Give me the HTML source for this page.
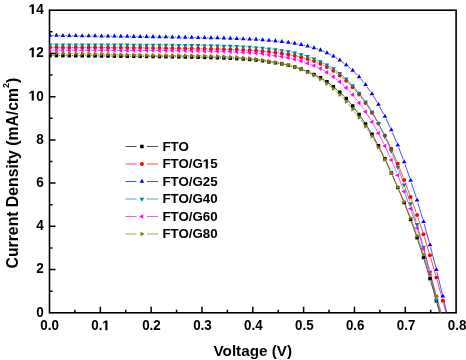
<!DOCTYPE html>
<html><head><meta charset="utf-8"><style>
html,body{margin:0;padding:0;background:#fff;}
svg{display:block;}
svg{will-change:transform;}
.h{fill-opacity:0;}
</style></head><body>
<svg width="466" height="360" viewBox="0 0 466 360">
<rect width="466" height="360" fill="#fff"/>
<defs><clipPath id="c"><rect x="49.5" y="10.2" width="406.6" height="302.6"/></clipPath></defs>
<rect x="49.5" y="10.2" width="406.60" height="302.60" fill="none" stroke="#000" stroke-width="1.6"/>
<g clip-path="url(#c)"><path d="M52.60,55.56L53.84,55.57M59.04,55.60L60.28,55.61M65.48,55.64L66.72,55.65M71.92,55.68L73.16,55.69M78.36,55.73L79.60,55.74M84.80,55.78L86.04,55.79M91.24,55.84L92.48,55.85M97.68,55.91L98.92,55.92M104.12,55.98L105.36,55.99M110.56,56.05L111.80,56.06M117.00,56.12L118.24,56.14M123.44,56.19L124.68,56.21M129.88,56.27L131.12,56.28M136.32,56.34L137.56,56.35M142.76,56.41L144.00,56.42M149.20,56.47L150.44,56.49M155.64,56.55L156.88,56.56M162.08,56.62L163.32,56.64M168.52,56.70L169.76,56.72M174.96,56.79L176.20,56.81M181.40,56.89L182.64,56.91M187.84,57.00L189.08,57.02M194.28,57.12L195.52,57.15M200.72,57.26L201.96,57.29M207.16,57.42L208.40,57.46M213.60,57.61L214.84,57.65M220.04,57.82L221.28,57.87M226.48,58.07L227.72,58.12M232.92,58.37L234.16,58.43M239.36,58.72L240.60,58.79M245.79,59.14L247.05,59.24M252.23,59.66L253.49,59.77M258.66,60.28L259.94,60.42M265.08,61.17L266.40,61.42M271.54,62.24L272.82,62.41M277.96,63.19L279.28,63.41M284.38,64.41L285.74,64.70M290.79,65.94L292.21,66.32M297.20,67.80L298.68,68.28M303.57,70.05L305.19,70.71M309.98,72.74L311.66,73.47M316.36,75.69L318.16,76.59M322.68,79.14L324.72,80.42M329.00,83.36L331.28,85.07M335.33,88.33L337.83,90.49M341.66,94.01L344.38,96.67M347.94,100.46L350.98,103.99M354.24,108.03L357.56,112.43M360.59,116.65L364.09,121.79M366.94,126.14L370.62,132.00M373.26,136.47L377.18,143.52M379.59,148.12L383.73,156.49M385.96,161.18L390.24,170.56M392.37,175.30L396.71,185.13M398.78,189.90L403.18,200.23M405.13,205.06L409.71,217.01M411.50,221.89L416.22,235.28M417.89,240.20L422.71,254.98M424.28,259.94L429.20,276.10M430.68,281.08L435.68,298.28M437.11,303.27L442.13,320.88" stroke="#000000" stroke-width="0.7" fill="none"/><path d="M52.60,47.30L53.84,47.31M59.04,47.35L60.28,47.36M65.48,47.39L66.72,47.40M71.92,47.44L73.16,47.44M78.36,47.48L79.60,47.48M84.80,47.52L86.04,47.52M91.24,47.55L92.48,47.56M97.68,47.58L98.92,47.59M104.12,47.62L105.36,47.62M110.56,47.65L111.80,47.66M117.00,47.68L118.24,47.69M123.44,47.72L124.68,47.73M129.88,47.76L131.12,47.77M136.32,47.81L137.56,47.82M142.76,47.87L144.00,47.88M149.20,47.93L150.44,47.94M155.64,48.00L156.88,48.01M162.08,48.08L163.32,48.09M168.52,48.16L169.76,48.18M174.96,48.26L176.20,48.28M181.40,48.36L182.64,48.38M187.84,48.47L189.08,48.49M194.28,48.59L195.52,48.61M200.72,48.72L201.96,48.74M207.16,48.85L208.40,48.88M213.60,49.01L214.84,49.04M220.04,49.18L221.28,49.21M226.48,49.37L227.72,49.41M232.92,49.59L234.16,49.63M239.36,49.84L240.60,49.90M245.80,50.14L247.04,50.21M252.24,50.50L253.48,50.58M258.67,50.93L259.93,51.02M265.11,51.47L266.37,51.59M271.54,52.13L272.82,52.27M277.98,52.90L279.26,53.08M284.41,53.84L285.71,54.05M290.83,54.97L292.17,55.23M297.25,56.31L298.63,56.62M303.67,57.89L305.09,58.27M310.08,59.75L311.56,60.22M316.44,62.02L318.08,62.72M322.80,64.90L324.60,65.82M329.15,68.34L331.13,69.52M335.48,72.36L337.68,73.92M341.79,77.09L344.25,79.16M348.09,82.67L350.83,85.37M354.39,89.16L357.41,92.59M360.70,96.62L363.98,100.92M366.99,105.16L370.57,110.56M373.32,114.96L377.12,121.38M379.68,125.90L383.64,133.18M386.01,137.81L390.19,146.49M392.35,151.21L396.73,161.32M398.72,166.12L403.24,177.49M405.12,182.34L409.72,194.59M411.52,199.47L416.20,212.50M417.90,217.42L422.70,231.86M424.28,236.81L429.20,252.79M430.68,257.77L435.68,275.01M437.09,280.01L442.15,298.33M443.51,303.35L448.61,322.34" stroke="#ff0000" stroke-width="0.7" fill="none"/><path d="M52.60,35.44L53.84,35.46M59.04,35.53L60.28,35.54M65.48,35.61L66.72,35.63M71.92,35.70L73.16,35.71M78.36,35.78L79.60,35.80M84.80,35.87L86.04,35.89M91.24,35.96L92.48,35.97M97.68,36.04L98.92,36.06M104.12,36.13L105.36,36.15M110.56,36.22L111.80,36.24M117.00,36.31L118.24,36.32M123.44,36.40L124.68,36.41M129.88,36.49L131.12,36.50M136.32,36.58L137.56,36.59M142.76,36.67L144.00,36.69M149.20,36.76L150.44,36.78M155.64,36.86L156.88,36.88M162.08,36.96L163.32,36.98M168.52,37.06L169.76,37.08M174.96,37.17L176.20,37.19M181.40,37.28L182.64,37.30M187.84,37.40L189.08,37.42M194.28,37.52L195.52,37.54M200.72,37.65L201.96,37.67M207.16,37.78L208.40,37.81M213.60,37.93L214.84,37.96M220.04,38.09L221.28,38.13M226.48,38.27L227.72,38.31M232.92,38.48L234.16,38.52M239.36,38.71L240.60,38.75M245.80,38.97L247.04,39.03M252.24,39.28L253.48,39.34M258.68,39.64L259.92,39.72M265.11,40.09L266.37,40.19M271.55,40.64L272.81,40.75M277.98,41.27L279.26,41.40M284.42,42.01L285.70,42.18M290.85,42.90L292.15,43.10M297.28,43.97L298.60,44.21M303.70,45.26L305.06,45.57M310.11,46.82L311.53,47.21M316.50,48.72L318.02,49.24M322.87,51.10L324.53,51.81M329.22,54.04L331.06,55.01M335.57,57.58L337.59,58.82M341.90,61.71L344.14,63.33M348.22,66.55L350.70,68.67M354.50,72.21L357.30,75.06M360.77,78.93L363.91,82.75M367.06,86.88L370.50,91.75M373.36,96.09L377.08,102.15M379.67,106.65L383.65,114.09M385.99,118.73L390.21,127.64M392.34,132.38L396.74,142.77M398.69,147.59L403.27,159.57M405.06,164.46L409.78,178.04M411.45,182.96L416.27,197.78M417.83,202.74L422.77,219.16M424.22,224.15L429.26,242.33M430.61,247.36L435.75,267.22M437.01,272.26L442.23,293.68M443.43,298.74L448.69,321.27" stroke="#0000ff" stroke-width="0.7" fill="none"/><path d="M52.60,44.82L53.84,44.82M59.04,44.82L60.28,44.83M65.48,44.83L66.72,44.83M71.92,44.84L73.16,44.84M78.36,44.85L79.60,44.85M84.80,44.86L86.04,44.86M91.24,44.87L92.48,44.87M97.68,44.88L98.92,44.88M104.12,44.90L105.36,44.90M110.56,44.91L111.80,44.91M117.00,44.93L118.24,44.93M123.44,44.95L124.68,44.95M129.88,44.97L131.12,44.97M136.32,44.99L137.56,44.99M142.76,45.01L144.00,45.02M149.20,45.04L150.44,45.05M155.64,45.08L156.88,45.08M162.08,45.11L163.32,45.12M168.52,45.16L169.76,45.17M174.96,45.21L176.20,45.22M181.40,45.27L182.64,45.28M187.84,45.34L189.08,45.35M194.28,45.42L195.52,45.44M200.72,45.51L201.96,45.53M207.16,45.63L208.40,45.65M213.60,45.75L214.84,45.78M220.04,45.91L221.28,45.94M226.48,46.09L227.72,46.13M232.92,46.31L234.16,46.36M239.36,46.58L240.60,46.64M245.80,46.90L247.04,46.97M252.23,47.29L253.49,47.38M258.67,47.76L259.93,47.86M265.11,48.35L266.37,48.49M271.54,49.08L272.82,49.23M277.97,49.92L279.27,50.11M284.40,50.93L285.72,51.17M290.82,52.15L292.18,52.44M297.24,53.60L298.64,53.95M303.65,55.31L305.11,55.73M310.05,57.33L311.59,57.88M316.42,59.78L318.10,60.51M322.79,62.73L324.61,63.66M329.15,66.18L331.13,67.35M335.47,70.21L337.69,71.82M341.76,75.05L344.28,77.23M348.05,80.80L350.87,83.69M354.35,87.54L357.45,91.22M360.68,95.29L364.00,99.75M366.97,104.02L370.59,109.65M373.27,114.11L377.17,121.08M379.58,125.69L383.74,134.15M385.93,138.87L390.27,148.70M392.28,153.50L396.80,164.79M398.65,169.65L403.31,182.39M405.04,187.29L409.80,201.23M411.41,206.17L416.31,221.96M417.79,226.95L422.81,244.67M424.16,249.69L429.32,270.08M430.56,275.13L435.80,297.40M436.98,302.46L442.26,325.33" stroke="#008080" stroke-width="0.7" fill="none"/><path d="M52.60,50.25L53.84,50.25M59.04,50.24L60.28,50.24M65.48,50.24L66.72,50.24M71.92,50.24L73.16,50.24M78.36,50.25L79.60,50.25M84.80,50.26L86.04,50.26M91.24,50.27L92.48,50.27M97.68,50.29L98.92,50.30M104.12,50.32L105.36,50.32M110.56,50.34L111.80,50.35M117.00,50.37L118.24,50.38M123.44,50.40L124.68,50.41M129.88,50.43L131.12,50.44M136.32,50.46L137.56,50.46M142.76,50.49L144.00,50.49M149.20,50.52L150.44,50.52M155.64,50.55L156.88,50.55M162.08,50.58L163.32,50.59M168.52,50.63L169.76,50.64M174.96,50.68L176.20,50.69M181.40,50.74L182.64,50.75M187.84,50.81L189.08,50.83M194.28,50.90L195.52,50.92M200.72,51.00L201.96,51.02M207.16,51.11L208.40,51.14M213.60,51.25L214.84,51.28M220.04,51.41L221.28,51.45M226.48,51.61L227.72,51.65M232.92,51.84L234.16,51.89M239.36,52.13L240.60,52.19M245.80,52.47L247.04,52.55M252.23,52.90L253.49,52.99M258.67,53.42L259.93,53.54M265.08,54.22L266.40,54.46M271.54,55.22L272.82,55.38M277.98,56.06L279.26,56.24M284.40,57.04L285.72,57.28M290.82,58.30L292.18,58.60M297.23,59.85L298.65,60.24M303.61,61.80L305.15,62.35M310.05,64.10L311.59,64.66M316.39,66.66L318.13,67.48M322.73,69.90L324.67,71.02M329.07,73.79L331.21,75.26M335.40,78.34L337.76,80.22M341.71,83.60L344.33,86.03M348.01,89.70L350.91,92.84M354.30,96.78L357.50,100.77M360.63,104.91L364.05,109.72M366.96,114.03L370.60,119.71M373.29,124.15L377.15,130.92M379.61,135.49L383.71,143.57M385.96,148.25L390.24,157.64M392.33,162.40L396.75,172.88M398.72,177.69L403.24,189.16M405.11,194.01L409.73,206.35M411.47,211.25L416.25,225.43M417.84,230.39L422.76,246.54M424.22,251.53L429.26,269.53M430.62,274.54L435.74,293.94M437.05,298.98L442.19,319.00" stroke="#ff00ff" stroke-width="0.7" fill="none"/><path d="M52.60,53.21L53.84,53.22M59.04,53.26L60.28,53.28M65.48,53.33L66.72,53.35M71.92,53.42L73.16,53.44M78.36,53.52L79.60,53.55M84.80,53.65L86.04,53.67M91.24,53.79L92.48,53.82M97.68,53.96L98.92,53.99M104.12,54.14L105.36,54.17M110.56,54.32L111.80,54.36M117.00,54.51L118.24,54.54M123.44,54.68L124.68,54.71M129.88,54.83L131.12,54.86M136.32,54.96L137.56,54.98M142.76,55.07L144.00,55.09M149.20,55.16L150.44,55.17M155.64,55.23L156.88,55.24M162.08,55.29L163.32,55.30M168.52,55.35L169.76,55.36M174.96,55.41L176.20,55.42M181.40,55.47L182.64,55.48M187.84,55.55L189.08,55.56M194.28,55.65L195.52,55.67M200.72,55.77L201.96,55.80M207.16,55.93L208.40,55.97M213.60,56.13L214.84,56.18M220.04,56.38L221.28,56.44M226.48,56.69L227.72,56.76M232.91,57.06L234.17,57.14M239.35,57.52L240.61,57.61M245.79,58.06L247.05,58.18M252.22,58.72L253.50,58.86M258.66,59.50L259.94,59.67M265.08,60.47L266.40,60.71M271.52,61.59L272.84,61.81M277.95,62.75L279.29,63.02M284.37,64.16L285.75,64.49M290.77,65.85L292.23,66.27M297.17,67.88L298.71,68.44M303.56,70.31L305.20,70.99M309.89,73.20L311.75,74.19M316.27,76.75L318.25,77.93M322.63,80.72L324.77,82.16M328.95,85.24L331.33,87.14M335.27,90.52L337.89,92.93M341.57,96.59L344.47,99.69M347.91,103.59L351.01,107.31M354.30,111.34L357.50,115.39M360.65,119.54L364.03,124.21M366.97,128.49L370.59,134.07M373.31,138.50L377.13,145.04M379.65,149.59L383.67,157.26M386.00,161.91L390.20,170.65M392.40,175.37L396.68,184.76M398.81,189.50L403.15,199.35M405.16,204.14L409.68,215.47M411.53,220.33L416.19,233.19M417.93,238.10L422.67,251.92M424.31,256.86L429.17,272.14M430.70,277.11L435.66,293.69M437.14,298.68L442.10,315.50" stroke="#808000" stroke-width="0.7" fill="none"/><rect x="48.25" y="53.80" width="3.50" height="3.50" fill="#000000"/><rect x="54.69" y="53.83" width="3.50" height="3.50" fill="#000000"/><rect x="61.13" y="53.87" width="3.50" height="3.50" fill="#000000"/><rect x="67.57" y="53.91" width="3.50" height="3.50" fill="#000000"/><rect x="74.01" y="53.96" width="3.50" height="3.50" fill="#000000"/><rect x="80.45" y="54.01" width="3.50" height="3.50" fill="#000000"/><rect x="86.89" y="54.07" width="3.50" height="3.50" fill="#000000"/><rect x="93.33" y="54.13" width="3.50" height="3.50" fill="#000000"/><rect x="99.77" y="54.20" width="3.50" height="3.50" fill="#000000"/><rect x="106.21" y="54.27" width="3.50" height="3.50" fill="#000000"/><rect x="112.65" y="54.34" width="3.50" height="3.50" fill="#000000"/><rect x="119.09" y="54.42" width="3.50" height="3.50" fill="#000000"/><rect x="125.53" y="54.49" width="3.50" height="3.50" fill="#000000"/><rect x="131.97" y="54.56" width="3.50" height="3.50" fill="#000000"/><rect x="138.41" y="54.63" width="3.50" height="3.50" fill="#000000"/><rect x="144.85" y="54.70" width="3.50" height="3.50" fill="#000000"/><rect x="151.29" y="54.77" width="3.50" height="3.50" fill="#000000"/><rect x="157.73" y="54.84" width="3.50" height="3.50" fill="#000000"/><rect x="164.17" y="54.92" width="3.50" height="3.50" fill="#000000"/><rect x="170.61" y="55.00" width="3.50" height="3.50" fill="#000000"/><rect x="177.05" y="55.10" width="3.50" height="3.50" fill="#000000"/><rect x="183.49" y="55.20" width="3.50" height="3.50" fill="#000000"/><rect x="189.93" y="55.32" width="3.50" height="3.50" fill="#000000"/><rect x="196.37" y="55.45" width="3.50" height="3.50" fill="#000000"/><rect x="202.81" y="55.61" width="3.50" height="3.50" fill="#000000"/><rect x="209.25" y="55.78" width="3.50" height="3.50" fill="#000000"/><rect x="215.69" y="55.98" width="3.50" height="3.50" fill="#000000"/><rect x="222.13" y="56.21" width="3.50" height="3.50" fill="#000000"/><rect x="228.57" y="56.48" width="3.50" height="3.50" fill="#000000"/><rect x="235.01" y="56.81" width="3.50" height="3.50" fill="#000000"/><rect x="241.45" y="57.20" width="3.50" height="3.50" fill="#000000"/><rect x="247.89" y="57.68" width="3.50" height="3.50" fill="#000000"/><rect x="254.33" y="58.25" width="3.50" height="3.50" fill="#000000"/><rect x="260.77" y="58.95" width="3.50" height="3.50" fill="#000000"/><rect x="267.21" y="60.14" width="3.50" height="3.50" fill="#000000"/><rect x="273.65" y="61.01" width="3.50" height="3.50" fill="#000000"/><rect x="280.09" y="62.10" width="3.50" height="3.50" fill="#000000"/><rect x="286.53" y="63.51" width="3.50" height="3.50" fill="#000000"/><rect x="292.97" y="65.25" width="3.50" height="3.50" fill="#000000"/><rect x="299.41" y="67.32" width="3.50" height="3.50" fill="#000000"/><rect x="305.85" y="69.94" width="3.50" height="3.50" fill="#000000"/><rect x="312.29" y="72.77" width="3.50" height="3.50" fill="#000000"/><rect x="318.73" y="76.01" width="3.50" height="3.50" fill="#000000"/><rect x="325.17" y="80.05" width="3.50" height="3.50" fill="#000000"/><rect x="331.61" y="84.88" width="3.50" height="3.50" fill="#000000"/><rect x="338.05" y="90.44" width="3.50" height="3.50" fill="#000000"/><rect x="344.49" y="96.74" width="3.50" height="3.50" fill="#000000"/><rect x="350.93" y="104.21" width="3.50" height="3.50" fill="#000000"/><rect x="357.37" y="112.75" width="3.50" height="3.50" fill="#000000"/><rect x="363.81" y="122.19" width="3.50" height="3.50" fill="#000000"/><rect x="370.25" y="132.45" width="3.50" height="3.50" fill="#000000"/><rect x="376.69" y="144.04" width="3.50" height="3.50" fill="#000000"/><rect x="383.13" y="157.07" width="3.50" height="3.50" fill="#000000"/><rect x="389.57" y="171.17" width="3.50" height="3.50" fill="#000000"/><rect x="396.01" y="185.75" width="3.50" height="3.50" fill="#000000"/><rect x="402.45" y="200.88" width="3.50" height="3.50" fill="#000000"/><rect x="408.89" y="217.68" width="3.50" height="3.50" fill="#000000"/><rect x="415.33" y="235.98" width="3.50" height="3.50" fill="#000000"/><rect x="421.77" y="255.71" width="3.50" height="3.50" fill="#000000"/><rect x="428.21" y="276.84" width="3.50" height="3.50" fill="#000000"/><rect x="434.65" y="299.02" width="3.50" height="3.50" fill="#000000"/><rect x="441.09" y="321.63" width="3.50" height="3.50" fill="#000000"/><circle cx="50.00" cy="47.28" r="2.00" fill="#ff0000"/><circle cx="56.44" cy="47.33" r="2.00" fill="#ff0000"/><circle cx="62.88" cy="47.38" r="2.00" fill="#ff0000"/><circle cx="69.32" cy="47.42" r="2.00" fill="#ff0000"/><circle cx="75.76" cy="47.46" r="2.00" fill="#ff0000"/><circle cx="82.20" cy="47.50" r="2.00" fill="#ff0000"/><circle cx="88.64" cy="47.54" r="2.00" fill="#ff0000"/><circle cx="95.08" cy="47.57" r="2.00" fill="#ff0000"/><circle cx="101.52" cy="47.60" r="2.00" fill="#ff0000"/><circle cx="107.96" cy="47.64" r="2.00" fill="#ff0000"/><circle cx="114.40" cy="47.67" r="2.00" fill="#ff0000"/><circle cx="120.84" cy="47.70" r="2.00" fill="#ff0000"/><circle cx="127.28" cy="47.74" r="2.00" fill="#ff0000"/><circle cx="133.72" cy="47.79" r="2.00" fill="#ff0000"/><circle cx="140.16" cy="47.84" r="2.00" fill="#ff0000"/><circle cx="146.60" cy="47.90" r="2.00" fill="#ff0000"/><circle cx="153.04" cy="47.97" r="2.00" fill="#ff0000"/><circle cx="159.48" cy="48.04" r="2.00" fill="#ff0000"/><circle cx="165.92" cy="48.13" r="2.00" fill="#ff0000"/><circle cx="172.36" cy="48.22" r="2.00" fill="#ff0000"/><circle cx="178.80" cy="48.32" r="2.00" fill="#ff0000"/><circle cx="185.24" cy="48.42" r="2.00" fill="#ff0000"/><circle cx="191.68" cy="48.54" r="2.00" fill="#ff0000"/><circle cx="198.12" cy="48.66" r="2.00" fill="#ff0000"/><circle cx="204.56" cy="48.80" r="2.00" fill="#ff0000"/><circle cx="211.00" cy="48.94" r="2.00" fill="#ff0000"/><circle cx="217.44" cy="49.10" r="2.00" fill="#ff0000"/><circle cx="223.88" cy="49.28" r="2.00" fill="#ff0000"/><circle cx="230.32" cy="49.49" r="2.00" fill="#ff0000"/><circle cx="236.76" cy="49.73" r="2.00" fill="#ff0000"/><circle cx="243.20" cy="50.01" r="2.00" fill="#ff0000"/><circle cx="249.64" cy="50.34" r="2.00" fill="#ff0000"/><circle cx="256.08" cy="50.74" r="2.00" fill="#ff0000"/><circle cx="262.52" cy="51.22" r="2.00" fill="#ff0000"/><circle cx="268.96" cy="51.85" r="2.00" fill="#ff0000"/><circle cx="275.40" cy="52.56" r="2.00" fill="#ff0000"/><circle cx="281.84" cy="53.42" r="2.00" fill="#ff0000"/><circle cx="288.28" cy="54.47" r="2.00" fill="#ff0000"/><circle cx="294.72" cy="55.73" r="2.00" fill="#ff0000"/><circle cx="301.16" cy="57.21" r="2.00" fill="#ff0000"/><circle cx="307.60" cy="58.95" r="2.00" fill="#ff0000"/><circle cx="314.04" cy="61.02" r="2.00" fill="#ff0000"/><circle cx="320.48" cy="63.72" r="2.00" fill="#ff0000"/><circle cx="326.92" cy="67.00" r="2.00" fill="#ff0000"/><circle cx="333.36" cy="70.86" r="2.00" fill="#ff0000"/><circle cx="339.80" cy="75.42" r="2.00" fill="#ff0000"/><circle cx="346.24" cy="80.84" r="2.00" fill="#ff0000"/><circle cx="352.68" cy="87.20" r="2.00" fill="#ff0000"/><circle cx="359.12" cy="94.55" r="2.00" fill="#ff0000"/><circle cx="365.56" cy="102.99" r="2.00" fill="#ff0000"/><circle cx="372.00" cy="112.73" r="2.00" fill="#ff0000"/><circle cx="378.44" cy="123.61" r="2.00" fill="#ff0000"/><circle cx="384.88" cy="135.47" r="2.00" fill="#ff0000"/><circle cx="391.32" cy="148.83" r="2.00" fill="#ff0000"/><circle cx="397.76" cy="163.71" r="2.00" fill="#ff0000"/><circle cx="404.20" cy="179.90" r="2.00" fill="#ff0000"/><circle cx="410.64" cy="197.02" r="2.00" fill="#ff0000"/><circle cx="417.08" cy="214.95" r="2.00" fill="#ff0000"/><circle cx="423.52" cy="234.32" r="2.00" fill="#ff0000"/><circle cx="429.96" cy="255.27" r="2.00" fill="#ff0000"/><circle cx="436.40" cy="277.51" r="2.00" fill="#ff0000"/><circle cx="442.84" cy="300.84" r="2.00" fill="#ff0000"/><circle cx="449.28" cy="324.86" r="2.00" fill="#ff0000"/><polygon points="50.00,32.70 52.34,36.75 47.66,36.75" fill="#0000ff"/><polygon points="56.44,32.79 58.78,36.84 54.10,36.84" fill="#0000ff"/><polygon points="62.88,32.88 65.22,36.93 60.54,36.93" fill="#0000ff"/><polygon points="69.32,32.96 71.66,37.01 66.98,37.01" fill="#0000ff"/><polygon points="75.76,33.05 78.10,37.10 73.42,37.10" fill="#0000ff"/><polygon points="82.20,33.14 84.54,37.19 79.86,37.19" fill="#0000ff"/><polygon points="88.64,33.22 90.98,37.27 86.30,37.27" fill="#0000ff"/><polygon points="95.08,33.31 97.42,37.36 92.74,37.36" fill="#0000ff"/><polygon points="101.52,33.40 103.86,37.45 99.18,37.45" fill="#0000ff"/><polygon points="107.96,33.48 110.30,37.53 105.62,37.53" fill="#0000ff"/><polygon points="114.40,33.57 116.74,37.62 112.06,37.62" fill="#0000ff"/><polygon points="120.84,33.66 123.18,37.71 118.50,37.71" fill="#0000ff"/><polygon points="127.28,33.75 129.62,37.80 124.94,37.80" fill="#0000ff"/><polygon points="133.72,33.84 136.06,37.89 131.38,37.89" fill="#0000ff"/><polygon points="140.16,33.93 142.50,37.98 137.82,37.98" fill="#0000ff"/><polygon points="146.60,34.03 148.94,38.08 144.26,38.08" fill="#0000ff"/><polygon points="153.04,34.12 155.38,38.17 150.70,38.17" fill="#0000ff"/><polygon points="159.48,34.22 161.82,38.27 157.14,38.27" fill="#0000ff"/><polygon points="165.92,34.32 168.26,38.37 163.58,38.37" fill="#0000ff"/><polygon points="172.36,34.42 174.70,38.47 170.02,38.47" fill="#0000ff"/><polygon points="178.80,34.53 181.14,38.58 176.46,38.58" fill="#0000ff"/><polygon points="185.24,34.65 187.58,38.70 182.90,38.70" fill="#0000ff"/><polygon points="191.68,34.77 194.02,38.82 189.34,38.82" fill="#0000ff"/><polygon points="198.12,34.89 200.46,38.94 195.78,38.94" fill="#0000ff"/><polygon points="204.56,35.02 206.90,39.07 202.22,39.07" fill="#0000ff"/><polygon points="211.00,35.17 213.34,39.22 208.66,39.22" fill="#0000ff"/><polygon points="217.44,35.32 219.78,39.37 215.10,39.37" fill="#0000ff"/><polygon points="223.88,35.50 226.22,39.55 221.54,39.55" fill="#0000ff"/><polygon points="230.32,35.69 232.66,39.74 227.98,39.74" fill="#0000ff"/><polygon points="236.76,35.91 239.10,39.96 234.42,39.96" fill="#0000ff"/><polygon points="243.20,36.15 245.54,40.20 240.86,40.20" fill="#0000ff"/><polygon points="249.64,36.44 251.98,40.49 247.30,40.49" fill="#0000ff"/><polygon points="256.08,36.78 258.42,40.83 253.74,40.83" fill="#0000ff"/><polygon points="262.52,37.18 264.86,41.23 260.18,41.23" fill="#0000ff"/><polygon points="268.96,37.70 271.30,41.75 266.62,41.75" fill="#0000ff"/><polygon points="275.40,38.29 277.74,42.34 273.06,42.34" fill="#0000ff"/><polygon points="281.84,38.98 284.18,43.03 279.50,43.03" fill="#0000ff"/><polygon points="288.28,39.81 290.62,43.86 285.94,43.86" fill="#0000ff"/><polygon points="294.72,40.79 297.06,44.84 292.38,44.84" fill="#0000ff"/><polygon points="301.16,41.98 303.50,46.03 298.82,46.03" fill="#0000ff"/><polygon points="307.60,43.44 309.94,47.49 305.26,47.49" fill="#0000ff"/><polygon points="314.04,45.19 316.38,49.24 311.70,49.24" fill="#0000ff"/><polygon points="320.48,47.37 322.82,51.42 318.14,51.42" fill="#0000ff"/><polygon points="326.92,50.13 329.26,54.18 324.58,54.18" fill="#0000ff"/><polygon points="333.36,53.52 335.70,57.57 331.02,57.57" fill="#0000ff"/><polygon points="339.80,57.48 342.14,61.53 337.46,61.53" fill="#0000ff"/><polygon points="346.24,62.16 348.58,66.21 343.90,66.21" fill="#0000ff"/><polygon points="352.68,67.65 355.02,71.70 350.34,71.70" fill="#0000ff"/><polygon points="359.12,74.22 361.46,78.27 356.78,78.27" fill="#0000ff"/><polygon points="365.56,82.06 367.90,86.11 363.22,86.11" fill="#0000ff"/><polygon points="372.00,91.18 374.34,95.23 369.66,95.23" fill="#0000ff"/><polygon points="378.44,101.66 380.78,105.71 376.10,105.71" fill="#0000ff"/><polygon points="384.88,113.68 387.22,117.73 382.54,117.73" fill="#0000ff"/><polygon points="391.32,127.29 393.66,131.34 388.98,131.34" fill="#0000ff"/><polygon points="397.76,142.46 400.10,146.51 395.42,146.51" fill="#0000ff"/><polygon points="404.20,159.30 406.54,163.35 401.86,163.35" fill="#0000ff"/><polygon points="410.64,177.79 412.98,181.84 408.30,181.84" fill="#0000ff"/><polygon points="417.08,197.55 419.42,201.60 414.74,201.60" fill="#0000ff"/><polygon points="423.52,218.95 425.86,223.00 421.18,223.00" fill="#0000ff"/><polygon points="429.96,242.14 432.30,246.19 427.62,246.19" fill="#0000ff"/><polygon points="436.40,267.04 438.74,271.09 434.06,271.09" fill="#0000ff"/><polygon points="442.84,293.51 445.18,297.56 440.50,297.56" fill="#0000ff"/><polygon points="449.28,321.10 451.62,325.15 446.94,325.15" fill="#0000ff"/><polygon points="50.00,47.52 52.34,43.47 47.66,43.47" fill="#008080"/><polygon points="56.44,47.52 58.78,43.47 54.10,43.47" fill="#008080"/><polygon points="62.88,47.53 65.22,43.48 60.54,43.48" fill="#008080"/><polygon points="69.32,47.54 71.66,43.49 66.98,43.49" fill="#008080"/><polygon points="75.76,47.54 78.10,43.49 73.42,43.49" fill="#008080"/><polygon points="82.20,47.55 84.54,43.50 79.86,43.50" fill="#008080"/><polygon points="88.64,47.56 90.98,43.51 86.30,43.51" fill="#008080"/><polygon points="95.08,47.58 97.42,43.53 92.74,43.53" fill="#008080"/><polygon points="101.52,47.59 103.86,43.54 99.18,43.54" fill="#008080"/><polygon points="107.96,47.60 110.30,43.55 105.62,43.55" fill="#008080"/><polygon points="114.40,47.62 116.74,43.57 112.06,43.57" fill="#008080"/><polygon points="120.84,47.64 123.18,43.59 118.50,43.59" fill="#008080"/><polygon points="127.28,47.66 129.62,43.61 124.94,43.61" fill="#008080"/><polygon points="133.72,47.68 136.06,43.63 131.38,43.63" fill="#008080"/><polygon points="140.16,47.70 142.50,43.65 137.82,43.65" fill="#008080"/><polygon points="146.60,47.73 148.94,43.68 144.26,43.68" fill="#008080"/><polygon points="153.04,47.76 155.38,43.71 150.70,43.71" fill="#008080"/><polygon points="159.48,47.80 161.82,43.75 157.14,43.75" fill="#008080"/><polygon points="165.92,47.84 168.26,43.79 163.58,43.79" fill="#008080"/><polygon points="172.36,47.89 174.70,43.84 170.02,43.84" fill="#008080"/><polygon points="178.80,47.94 181.14,43.89 176.46,43.89" fill="#008080"/><polygon points="185.24,48.01 187.58,43.96 182.90,43.96" fill="#008080"/><polygon points="191.68,48.09 194.02,44.04 189.34,44.04" fill="#008080"/><polygon points="198.12,48.17 200.46,44.12 195.78,44.12" fill="#008080"/><polygon points="204.56,48.28 206.90,44.23 202.22,44.23" fill="#008080"/><polygon points="211.00,48.40 213.34,44.35 208.66,44.35" fill="#008080"/><polygon points="217.44,48.54 219.78,44.49 215.10,44.49" fill="#008080"/><polygon points="223.88,48.71 226.22,44.66 221.54,44.66" fill="#008080"/><polygon points="230.32,48.92 232.66,44.87 227.98,44.87" fill="#008080"/><polygon points="236.76,49.16 239.10,45.11 234.42,45.11" fill="#008080"/><polygon points="243.20,49.46 245.54,45.41 240.86,45.41" fill="#008080"/><polygon points="249.64,49.82 251.98,45.77 247.30,45.77" fill="#008080"/><polygon points="256.08,50.25 258.42,46.20 253.74,46.20" fill="#008080"/><polygon points="262.52,50.78 264.86,46.73 260.18,46.73" fill="#008080"/><polygon points="268.96,51.47 271.30,47.42 266.62,47.42" fill="#008080"/><polygon points="275.40,52.24 277.74,48.19 273.06,48.19" fill="#008080"/><polygon points="281.84,53.18 284.18,49.13 279.50,49.13" fill="#008080"/><polygon points="288.28,54.32 290.62,50.27 285.94,50.27" fill="#008080"/><polygon points="294.72,55.67 297.06,51.62 292.38,51.62" fill="#008080"/><polygon points="301.16,57.28 303.50,53.23 298.82,53.23" fill="#008080"/><polygon points="307.60,59.17 309.94,55.12 305.26,55.12" fill="#008080"/><polygon points="314.04,61.44 316.38,57.39 311.70,57.39" fill="#008080"/><polygon points="320.48,64.25 322.82,60.20 318.14,60.20" fill="#008080"/><polygon points="326.92,67.55 329.26,63.50 324.58,63.50" fill="#008080"/><polygon points="333.36,71.38 335.70,67.33 331.02,67.33" fill="#008080"/><polygon points="339.80,76.04 342.14,71.99 337.46,71.99" fill="#008080"/><polygon points="346.24,81.63 348.58,77.58 343.90,77.58" fill="#008080"/><polygon points="352.68,88.25 355.02,84.20 350.34,84.20" fill="#008080"/><polygon points="359.12,95.90 361.46,91.85 356.78,91.85" fill="#008080"/><polygon points="365.56,104.53 367.90,100.48 363.22,100.48" fill="#008080"/><polygon points="372.00,114.54 374.34,110.49 369.66,110.49" fill="#008080"/><polygon points="378.44,126.05 380.78,122.00 376.10,122.00" fill="#008080"/><polygon points="384.88,139.19 387.22,135.14 382.54,135.14" fill="#008080"/><polygon points="391.32,153.78 393.66,149.73 388.98,149.73" fill="#008080"/><polygon points="397.76,169.91 400.10,165.86 395.42,165.86" fill="#008080"/><polygon points="404.20,187.53 406.54,183.48 401.86,183.48" fill="#008080"/><polygon points="410.64,206.39 412.98,202.34 408.30,202.34" fill="#008080"/><polygon points="417.08,227.14 419.42,223.09 414.74,223.09" fill="#008080"/><polygon points="423.52,249.87 425.86,245.82 421.18,245.82" fill="#008080"/><polygon points="429.96,275.30 432.30,271.25 427.62,271.25" fill="#008080"/><polygon points="436.40,302.63 438.74,298.58 434.06,298.58" fill="#008080"/><polygon points="442.84,330.56 445.18,326.51 440.50,326.51" fill="#008080"/><polygon points="47.30,50.25 51.35,47.92 51.35,52.59" fill="#ff00ff"/><polygon points="53.74,50.25 57.79,47.91 57.79,52.58" fill="#ff00ff"/><polygon points="60.18,50.24 64.23,47.90 64.23,52.58" fill="#ff00ff"/><polygon points="66.62,50.24 70.67,47.90 70.67,52.58" fill="#ff00ff"/><polygon points="73.06,50.24 77.11,47.90 77.11,52.58" fill="#ff00ff"/><polygon points="79.50,50.25 83.55,47.91 83.55,52.59" fill="#ff00ff"/><polygon points="85.94,50.26 89.99,47.93 89.99,52.60" fill="#ff00ff"/><polygon points="92.38,50.28 96.43,47.94 96.43,52.62" fill="#ff00ff"/><polygon points="98.82,50.31 102.87,47.97 102.87,52.64" fill="#ff00ff"/><polygon points="105.26,50.33 109.31,47.99 109.31,52.67" fill="#ff00ff"/><polygon points="111.70,50.36 115.75,48.02 115.75,52.70" fill="#ff00ff"/><polygon points="118.14,50.39 122.19,48.05 122.19,52.73" fill="#ff00ff"/><polygon points="124.58,50.42 128.63,48.08 128.63,52.76" fill="#ff00ff"/><polygon points="131.02,50.45 135.07,48.11 135.07,52.79" fill="#ff00ff"/><polygon points="137.46,50.48 141.51,48.14 141.51,52.81" fill="#ff00ff"/><polygon points="143.90,50.50 147.95,48.17 147.95,52.84" fill="#ff00ff"/><polygon points="150.34,50.53 154.39,48.20 154.39,52.87" fill="#ff00ff"/><polygon points="156.78,50.57 160.83,48.23 160.83,52.91" fill="#ff00ff"/><polygon points="163.22,50.61 167.27,48.27 167.27,52.95" fill="#ff00ff"/><polygon points="169.66,50.66 173.71,48.32 173.71,53.00" fill="#ff00ff"/><polygon points="176.10,50.71 180.15,48.38 180.15,53.05" fill="#ff00ff"/><polygon points="182.54,50.78 186.59,48.44 186.59,53.12" fill="#ff00ff"/><polygon points="188.98,50.86 193.03,48.52 193.03,53.20" fill="#ff00ff"/><polygon points="195.42,50.95 199.47,48.62 199.47,53.29" fill="#ff00ff"/><polygon points="201.86,51.06 205.91,48.72 205.91,53.40" fill="#ff00ff"/><polygon points="208.30,51.19 212.35,48.85 212.35,53.53" fill="#ff00ff"/><polygon points="214.74,51.34 218.79,49.00 218.79,53.68" fill="#ff00ff"/><polygon points="221.18,51.52 225.23,49.18 225.23,53.86" fill="#ff00ff"/><polygon points="227.62,51.74 231.67,49.40 231.67,54.07" fill="#ff00ff"/><polygon points="234.06,52.00 238.11,49.66 238.11,54.34" fill="#ff00ff"/><polygon points="240.50,52.32 244.55,49.98 244.55,54.66" fill="#ff00ff"/><polygon points="246.94,52.71 250.99,50.37 250.99,55.05" fill="#ff00ff"/><polygon points="253.38,53.19 257.43,50.85 257.43,55.52" fill="#ff00ff"/><polygon points="259.82,53.77 263.87,51.43 263.87,56.11" fill="#ff00ff"/><polygon points="266.26,54.91 270.31,52.57 270.31,57.25" fill="#ff00ff"/><polygon points="272.70,55.70 276.75,53.36 276.75,58.04" fill="#ff00ff"/><polygon points="279.14,56.59 283.19,54.26 283.19,58.93" fill="#ff00ff"/><polygon points="285.58,57.73 289.63,55.39 289.63,60.06" fill="#ff00ff"/><polygon points="292.02,59.17 296.07,56.84 296.07,61.51" fill="#ff00ff"/><polygon points="298.46,60.92 302.51,58.58 302.51,63.26" fill="#ff00ff"/><polygon points="304.90,63.22 308.95,60.88 308.95,65.56" fill="#ff00ff"/><polygon points="311.34,65.54 315.39,63.21 315.39,67.88" fill="#ff00ff"/><polygon points="317.78,68.59 321.83,66.26 321.83,70.93" fill="#ff00ff"/><polygon points="324.22,72.32 328.27,69.98 328.27,74.66" fill="#ff00ff"/><polygon points="330.66,76.73 334.71,74.39 334.71,79.07" fill="#ff00ff"/><polygon points="337.10,81.83 341.15,79.49 341.15,84.17" fill="#ff00ff"/><polygon points="343.54,87.79 347.59,85.45 347.59,90.13" fill="#ff00ff"/><polygon points="349.98,94.75 354.03,92.41 354.03,97.08" fill="#ff00ff"/><polygon points="356.42,102.80 360.47,100.46 360.47,105.13" fill="#ff00ff"/><polygon points="362.86,111.84 366.91,109.50 366.91,114.18" fill="#ff00ff"/><polygon points="369.30,121.90 373.35,119.56 373.35,124.23" fill="#ff00ff"/><polygon points="375.74,133.17 379.79,130.84 379.79,135.51" fill="#ff00ff"/><polygon points="382.18,145.89 386.23,143.55 386.23,148.23" fill="#ff00ff"/><polygon points="388.62,160.00 392.67,157.67 392.67,162.34" fill="#ff00ff"/><polygon points="395.06,175.27 399.11,172.93 399.11,177.61" fill="#ff00ff"/><polygon points="401.50,191.58 405.55,189.24 405.55,193.91" fill="#ff00ff"/><polygon points="407.94,208.78 411.99,206.44 411.99,211.12" fill="#ff00ff"/><polygon points="414.38,227.90 418.43,225.56 418.43,230.24" fill="#ff00ff"/><polygon points="420.82,249.02 424.87,246.69 424.87,251.36" fill="#ff00ff"/><polygon points="427.26,272.03 431.31,269.69 431.31,274.37" fill="#ff00ff"/><polygon points="433.70,296.46 437.75,294.12 437.75,298.80" fill="#ff00ff"/><polygon points="440.14,321.51 444.19,319.18 444.19,323.85" fill="#ff00ff"/><polygon points="52.70,53.19 48.65,55.53 48.65,50.85" fill="#808000"/><polygon points="59.14,53.24 55.09,55.58 55.09,50.90" fill="#808000"/><polygon points="65.58,53.30 61.53,55.64 61.53,50.96" fill="#808000"/><polygon points="72.02,53.38 67.97,55.72 67.97,51.04" fill="#808000"/><polygon points="78.46,53.48 74.41,55.81 74.41,51.14" fill="#808000"/><polygon points="84.90,53.59 80.85,55.93 80.85,51.25" fill="#808000"/><polygon points="91.34,53.73 87.29,56.07 87.29,51.39" fill="#808000"/><polygon points="97.78,53.89 93.73,56.23 93.73,51.55" fill="#808000"/><polygon points="104.22,54.06 100.17,56.40 100.17,51.72" fill="#808000"/><polygon points="110.66,54.25 106.61,56.59 106.61,51.91" fill="#808000"/><polygon points="117.10,54.43 113.05,56.77 113.05,52.10" fill="#808000"/><polygon points="123.54,54.61 119.49,56.95 119.49,52.27" fill="#808000"/><polygon points="129.98,54.77 125.93,57.11 125.93,52.44" fill="#808000"/><polygon points="136.42,54.91 132.37,57.25 132.37,52.58" fill="#808000"/><polygon points="142.86,55.03 138.81,57.37 138.81,52.69" fill="#808000"/><polygon points="149.30,55.13 145.25,57.46 145.25,52.79" fill="#808000"/><polygon points="155.74,55.20 151.69,57.54 151.69,52.87" fill="#808000"/><polygon points="162.18,55.27 158.13,57.61 158.13,52.93" fill="#808000"/><polygon points="168.62,55.33 164.57,57.66 164.57,52.99" fill="#808000"/><polygon points="175.06,55.38 171.01,57.72 171.01,53.04" fill="#808000"/><polygon points="181.50,55.44 177.45,57.78 177.45,53.10" fill="#808000"/><polygon points="187.94,55.51 183.89,57.85 183.89,53.17" fill="#808000"/><polygon points="194.38,55.60 190.33,57.94 190.33,53.26" fill="#808000"/><polygon points="200.82,55.71 196.77,58.05 196.77,53.38" fill="#808000"/><polygon points="207.26,55.86 203.21,58.20 203.21,53.52" fill="#808000"/><polygon points="213.70,56.04 209.65,58.38 209.65,53.70" fill="#808000"/><polygon points="220.14,56.27 216.09,58.61 216.09,53.93" fill="#808000"/><polygon points="226.58,56.55 222.53,58.89 222.53,54.21" fill="#808000"/><polygon points="233.02,56.90 228.97,59.23 228.97,54.56" fill="#808000"/><polygon points="239.46,57.31 235.41,59.65 235.41,54.97" fill="#808000"/><polygon points="245.90,57.82 241.85,60.16 241.85,55.48" fill="#808000"/><polygon points="252.34,58.42 248.29,60.76 248.29,56.09" fill="#808000"/><polygon points="258.78,59.15 254.73,61.49 254.73,56.81" fill="#808000"/><polygon points="265.22,60.02 261.17,62.36 261.17,57.68" fill="#808000"/><polygon points="271.66,61.17 267.61,63.50 267.61,58.83" fill="#808000"/><polygon points="278.10,62.24 274.05,64.58 274.05,59.90" fill="#808000"/><polygon points="284.54,63.54 280.49,65.88 280.49,61.20" fill="#808000"/><polygon points="290.98,65.11 286.93,67.45 286.93,62.77" fill="#808000"/><polygon points="297.42,67.01 293.37,69.35 293.37,64.67" fill="#808000"/><polygon points="303.86,69.31 299.81,71.65 299.81,66.97" fill="#808000"/><polygon points="310.30,71.98 306.25,74.32 306.25,69.64" fill="#808000"/><polygon points="316.74,75.42 312.69,77.76 312.69,73.08" fill="#808000"/><polygon points="323.18,79.27 319.13,81.60 319.13,76.93" fill="#808000"/><polygon points="329.62,83.62 325.57,85.96 325.57,81.28" fill="#808000"/><polygon points="336.06,88.76 332.01,91.10 332.01,86.42" fill="#808000"/><polygon points="342.50,94.69 338.45,97.03 338.45,92.35" fill="#808000"/><polygon points="348.94,101.59 344.89,103.93 344.89,99.25" fill="#808000"/><polygon points="355.38,109.31 351.33,111.65 351.33,106.97" fill="#808000"/><polygon points="361.82,117.43 357.77,119.77 357.77,115.09" fill="#808000"/><polygon points="368.26,126.31 364.21,128.65 364.21,123.97" fill="#808000"/><polygon points="374.70,136.25 370.65,138.59 370.65,133.92" fill="#808000"/><polygon points="381.14,147.29 377.09,149.62 377.09,144.95" fill="#808000"/><polygon points="387.58,159.56 383.53,161.90 383.53,157.22" fill="#808000"/><polygon points="394.02,173.00 389.97,175.34 389.97,170.66" fill="#808000"/><polygon points="400.46,187.12 396.41,189.46 396.41,184.78" fill="#808000"/><polygon points="406.90,201.73 402.85,204.07 402.85,199.39" fill="#808000"/><polygon points="413.34,217.89 409.29,220.23 409.29,215.55" fill="#808000"/><polygon points="419.78,235.64 415.73,237.98 415.73,233.30" fill="#808000"/><polygon points="426.22,254.38 422.17,256.72 422.17,252.04" fill="#808000"/><polygon points="432.66,274.62 428.61,276.96 428.61,272.28" fill="#808000"/><polygon points="439.10,296.18 435.05,298.52 435.05,293.85" fill="#808000"/><polygon points="445.54,318.00 441.49,320.33 441.49,315.66" fill="#808000"/></g>
<path d="M74.91,312.8V309.8M100.33,312.8V306.8M125.74,312.8V309.8M151.15,312.8V306.8M176.56,312.8V309.8M201.98,312.8V306.8M227.39,312.8V309.8M252.80,312.8V306.8M278.21,312.8V309.8M303.62,312.8V306.8M329.04,312.8V309.8M354.45,312.8V306.8M379.86,312.8V309.8M405.28,312.8V306.8M430.69,312.8V309.8M49.5,291.19H52.5M49.5,269.57H55.5M49.5,247.96H52.5M49.5,226.34H55.5M49.5,204.73H52.5M49.5,183.11H55.5M49.5,161.50H52.5M49.5,139.89H55.5M49.5,118.27H52.5M49.5,96.66H55.5M49.5,75.04H52.5M49.5,53.43H55.5M49.5,31.81H52.5" stroke="#000" stroke-width="1.5" fill="none"/>
<g font-family="Liberation Sans" font-weight="bold" font-size="14"><text transform="translate(49.60,330.2) scale(0.955,1)" text-anchor="middle">0.0</text><text transform="translate(100.53,330.2) scale(0.955,1)" text-anchor="middle">0.<tspan class="h">1</tspan></text><text transform="translate(151.47,330.2) scale(0.955,1)" text-anchor="middle">0.2</text><text transform="translate(202.41,330.2) scale(0.955,1)" text-anchor="middle">0.3</text><text transform="translate(253.34,330.2) scale(0.955,1)" text-anchor="middle">0.4</text><text transform="translate(304.28,330.2) scale(0.955,1)" text-anchor="middle">0.5</text><text transform="translate(355.21,330.2) scale(0.955,1)" text-anchor="middle">0.6</text><text transform="translate(406.15,330.2) scale(0.955,1)" text-anchor="middle">0.7</text><text transform="translate(457.08,330.2) scale(0.955,1)" text-anchor="middle">0.8</text><text transform="translate(43.8,316.70) scale(0.97,1)" text-anchor="end">0</text><text transform="translate(43.8,273.47) scale(0.97,1)" text-anchor="end">2</text><text transform="translate(43.8,230.24) scale(0.97,1)" text-anchor="end">4</text><text transform="translate(43.8,187.01) scale(0.97,1)" text-anchor="end">6</text><text transform="translate(43.8,143.79) scale(0.97,1)" text-anchor="end">8</text><text transform="translate(43.8,100.56) scale(0.97,1)" text-anchor="end"><tspan class="h">1</tspan>0</text><text transform="translate(43.8,57.33) scale(0.97,1)" text-anchor="end"><tspan class="h">1</tspan>2</text><text transform="translate(43.8,14.10) scale(0.97,1)" text-anchor="end"><tspan class="h">1</tspan>4</text></g>
<text x="252.80" y="355.8" text-anchor="middle" font-family="Liberation Sans" font-weight="bold" font-size="15.25">Voltage (V)</text>
<text transform="translate(18.2,173.1) rotate(-90)" text-anchor="middle" font-family="Liberation Sans" font-weight="bold" font-size="15.75">Current Density (mA/cm<tspan font-size="9" dy="-9.3">2</tspan><tspan dy="9.3">)</tspan></text>
<path d="M125.5,146.50H136.5M147,146.50H158" stroke="#000000" stroke-width="0.7"/><rect x="140.15" y="144.75" width="3.50" height="3.50" fill="#000000"/><text x="162.4" y="150.90" font-family="Liberation Sans" font-weight="bold" font-size="13.3">FTO</text><path d="M125.5,164.00H136.5M147,164.00H158" stroke="#ff0000" stroke-width="0.7"/><circle cx="141.90" cy="164.00" r="2.00" fill="#ff0000"/><text x="162.4" y="168.40" font-family="Liberation Sans" font-weight="bold" font-size="13.3">FTO/G<tspan class="h">1</tspan>5</text><path d="M125.5,181.50H136.5M147,181.50H158" stroke="#0000ff" stroke-width="0.7"/><polygon points="141.90,178.80 144.24,182.85 139.56,182.85" fill="#0000ff"/><text x="162.4" y="185.90" font-family="Liberation Sans" font-weight="bold" font-size="13.3">FTO/G25</text><path d="M125.5,199.00H136.5M147,199.00H158" stroke="#008080" stroke-width="0.7"/><polygon points="141.90,201.70 144.24,197.65 139.56,197.65" fill="#008080"/><text x="162.4" y="203.40" font-family="Liberation Sans" font-weight="bold" font-size="13.3">FTO/G40</text><path d="M125.5,216.50H136.5M147,216.50H158" stroke="#ff00ff" stroke-width="0.7"/><polygon points="139.20,216.50 143.25,214.16 143.25,218.84" fill="#ff00ff"/><text x="162.4" y="220.90" font-family="Liberation Sans" font-weight="bold" font-size="13.3">FTO/G60</text><path d="M125.5,234.00H136.5M147,234.00H158" stroke="#808000" stroke-width="0.7"/><polygon points="144.60,234.00 140.55,236.34 140.55,231.66" fill="#808000"/><text x="162.4" y="238.40" font-family="Liberation Sans" font-weight="bold" font-size="13.3">FTO/G80</text>
<path transform="matrix(0.9550,0.0000,0.0000,1.0000,100.530,330.200)" d="M5.05,0.00L5.05,-7.86L2.76,-6.49L2.76,-8.13L5.22,-9.74L7.24,-9.74L7.24,0.00Z" fill="#000"/>
<path transform="matrix(0.9700,0.0000,0.0000,1.0000,43.800,100.560)" d="M-12.47,0.00L-12.47,-7.86L-14.76,-6.49L-14.76,-8.13L-12.29,-9.74L-10.28,-9.74L-10.28,0.00Z" fill="#000"/>
<path transform="matrix(0.9700,0.0000,0.0000,1.0000,43.800,57.330)" d="M-12.47,0.00L-12.47,-7.86L-14.76,-6.49L-14.76,-8.13L-12.29,-9.74L-10.28,-9.74L-10.28,0.00Z" fill="#000"/>
<path transform="matrix(0.9700,0.0000,0.0000,1.0000,43.800,14.100)" d="M-12.47,0.00L-12.47,-7.86L-14.76,-6.49L-14.76,-8.13L-12.29,-9.74L-10.28,-9.74L-10.28,0.00Z" fill="#000"/>
<path transform="matrix(1.0000,0.0000,0.0000,1.0000,0.000,0.000)" d="M205.75,168.40L205.75,160.93L203.57,162.23L203.57,160.67L205.91,159.15L207.82,159.15L207.82,168.40Z" fill="#000"/>
</svg>
</body></html>
